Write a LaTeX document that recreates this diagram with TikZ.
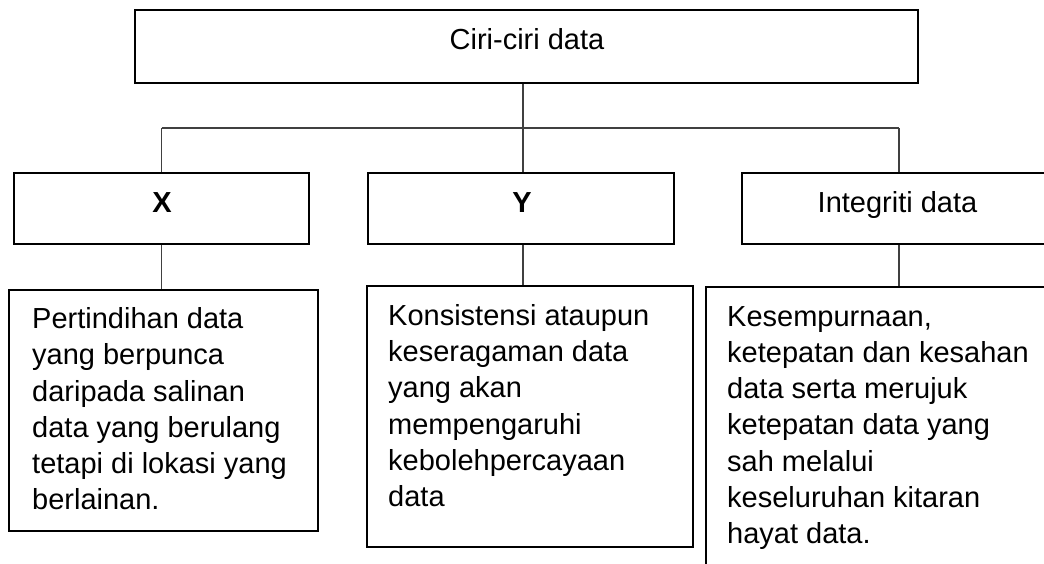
\documentclass[tikz,border=0pt]{standalone}
\usepackage{fontspec}
\setmainfont{Liberation Sans}
\begin{document}
\begin{tikzpicture}[x=1pt,y=-1pt,
  box/.style={draw=black, line width=2.8pt, rectangle, inner sep=0pt},
  link/.style={line width=1.3pt, draw=black!75},
  lbl/.style={anchor=base, inner sep=0pt, font=\fontsize{29}{36}\selectfont},
  txt/.style={anchor=north west, inner sep=0pt, align=left, font=\fontsize{29}{36.2}\selectfont}]
\useasboundingbox (0,0) rectangle (1044,563);
\begin{scope}
\clip (0,0) rectangle (1044,563);
% top
\node[box, minimum width=783pt, minimum height=73pt] (top) at (526.5,46.5) {};
\node[lbl] (topl) at (527,49.5) {Ciri-ciri data};
% second row
\node[box, minimum width=295pt, minimum height=71pt] (X) at (161.5,208.5) {};
\node[lbl, font=\fontsize{29}{36}\selectfont\bfseries] (Xl) at (162,212) {X};
\node[box, minimum width=306pt, minimum height=71pt] (Y) at (521,208.5) {};
\node[lbl, font=\fontsize{29}{36}\selectfont\bfseries] (Yl) at (522,212) {Y};
\node[box, minimum width=318pt, minimum height=71pt] (I) at (901,208.5) {};
\node[lbl] (Il) at (897.5,212) {Integriti data};
% third row
\node[box, minimum width=309pt, minimum height=241pt] (XD) at (163.5,410.5) {};
\node[txt] (XT) at (32,307.5) {Pertindihan data\\yang berpunca\\daripada salinan\\data yang berulang\\tetapi di lokasi yang\\berlainan.};
\node[box, minimum width=326pt, minimum height=261pt] (YD) at (530,416.5) {};
\node[txt] (YT) at (388,304.2) {Konsistensi ataupun\\keseragaman data\\yang akan\\mempengaruhi\\kebolehpercayaan\\data};
\node[box, minimum width=354pt, minimum height=293pt] (ID) at (883,433.5) {};
\node[txt] (IT) at (727,306.2) {Kesempurnaan,\\ketepatan dan kesahan\\data serta merujuk\\ketepatan data yang\\sah melalui\\keseluruhan kitaran\\hayat data.};
% connectors
\coordinate (bL) at (161.5,128);
\coordinate (bM) at (523,128);
\coordinate (bR) at (899,128);
\draw[link] (bM |- top.south) -- (bM);
\draw[link] (bL) -- (bR);
\draw[link] (bL) -- (bL |- X.north);
\draw[link] (bM) -- (bM |- Y.north);
\draw[link] (bR) -- (bR |- I.north);
\draw[link] (bL |- X.south) -- (bL |- XD.north);
\draw[link] (bM |- Y.south) -- (bM |- YD.north);
\draw[link] (bR |- I.south) -- (bR |- ID.north);
\end{scope}
\end{tikzpicture}
\end{document}
